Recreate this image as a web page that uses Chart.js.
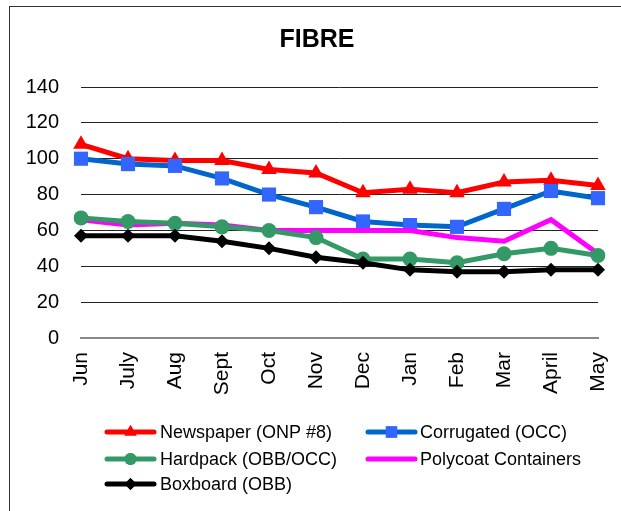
<!DOCTYPE html>
<html>
<head>
<meta charset="utf-8">
<script src="https://cdn.jsdelivr.net/npm/chart.js@4"></script>
<style>
  html, body { margin:0; padding:0; background:#fff; overflow:hidden; }
  #wrap { position:relative; width:621px; height:511px; }
  #frame { position:absolute; left:9px; top:6px; width:700px; height:600px; border:1px solid #333; box-sizing:border-box; pointer-events:none; }
  canvas { position:absolute; left:0; top:0; }
</style>
</head>
<body>
<div id="wrap">
  <canvas id="c" width="621" height="511"></canvas>
  <div id="frame"></div>
</div>
<script>
const chartTitle = 'FIBRE';
const months = ['Jun','July','Aug','Sept','Oct','Nov','Dec','Jan','Feb','Mar','April','May'];
const seriesNames = ['Newspaper (ONP #8)','Corrugated (OCC)','Hardpack (OBB/OCC)','Polycoat Containers','Boxboard (OBB)'];
const newspaper  = [108,100,99,99,94,92,81,83,81,87,88,85];
const corrugated = [100,97,96,89,80,73,65,63,62,72,82,78];
const hardpack   = [67,65,64,62,60,56,44,44,42,47,50,46];
const polycoat   = [66,63,64,63,60,60,60,60,56,54,66,47];
const boxboard   = [57,57,57,54,50,45,42,38,37,37,38,38];
const yTicks = [0,20,40,60,80,100,120,140];

const FONT = "'Liberation Sans', Arial, sans-serif";

const styles = [
  {line:'#FF0000', fill:'#FF0000', shape:'triangle', r:9, lr:7, order:4},
  {line:'#0066CC', fill:'#3366FF', shape:'rect', r:10, lr:8, order:3},
  {line:'#339966', fill:'#339966', shape:'circle', r:7.5, lr:6, order:1},
  {line:'#FF00FF', fill:'#FF00FF', shape:'circle', r:0, lr:0, order:2},
  {line:'#000000', fill:'#000000', shape:'rectRot', r:7, lr:6, order:0}
];
const values = [newspaper, corrugated, hardpack, polycoat, boxboard];

const datasets = values.map((v, i) => ({
  label: seriesNames[i],
  data: v,
  borderColor: styles[i].line,
  backgroundColor: styles[i].fill,
  pointBackgroundColor: styles[i].fill,
  pointBorderColor: styles[i].fill,
  pointBorderWidth: 0,
  pointStyle: styles[i].shape,
  pointRadius: styles[i].r,
  pointHoverRadius: styles[i].r,
  borderWidth: 5,
  tension: 0,
  fill: false,
  order: styles[i].order
}));

const titleLegendPlugin = {
  id: 'titleLegend',
  afterDraw(chart) {
    const ctx = chart.ctx;
    ctx.save();
    ctx.fillStyle = '#000';
    ctx.font = 'bold 25px ' + FONT;
    ctx.textAlign = 'center';
    ctx.textBaseline = 'middle';
    ctx.fillText(chartTitle, 317, 40);

    const cols = [{lx:107, tx:160}, {lx:368, tx:420}];
    const rows = [432, 459, 484];
    ctx.font = '18px ' + FONT;
    ctx.textAlign = 'left';
    ctx.textBaseline = 'middle';
    seriesNames.forEach((name, i) => {
      const c = cols[i % 2], y = rows[Math.floor(i / 2)];
      ctx.strokeStyle = styles[i].line;
      ctx.lineWidth = 5;
      ctx.lineCap = 'round';
      ctx.beginPath();
      ctx.moveTo(c.lx, y);
      ctx.lineTo(c.lx + 47, y);
      ctx.stroke();
      if (styles[i].lr > 0) {
        ctx.fillStyle = styles[i].fill;
        ctx.strokeStyle = styles[i].fill;
        Chart.helpers.drawPoint(ctx, {pointStyle: styles[i].shape, radius: styles[i].lr, borderWidth: 0, rotation: 0}, c.lx + 23.5, y);
        ctx.fill();
      }
      ctx.fillStyle = '#000';
      ctx.fillText(name, c.tx, y + 1);
    });
    ctx.restore();
  }
};

new Chart(document.getElementById('c'), {
  type: 'line',
  data: { labels: months, datasets },
  options: {
    responsive: false,
    animation: false,
    devicePixelRatio: 1,
    layout: { padding: { top: 87, right: 23, left: 0, bottom: 0 } },
    plugins: { legend: { display: false }, title: { display: false }, tooltip: { enabled: false } },
    events: [],
    scales: {
      x: {
        offset: false,
        grid: { display: false, drawTicks: false },
        border: { display: true, color: '#888888', width: 2 },
        ticks: { minRotation: 90, maxRotation: 90, padding: 14, color: '#000', font: { family: FONT, size: 21 } },
        afterFit(s) { s.height = 511 - 338; s.paddingLeft = 0; s.paddingRight = 0; }
      },
      y: {
        min: 0, max: 140,
        afterBuildTicks(s) { s.ticks = yTicks.map(v => ({ value: v })); },
        grid: {
          drawTicks: false,
          color: ctx => (ctx.tick && ctx.tick.value === 0) ? '#888888' : '#222222',
          lineWidth: 1
        },
        border: { display: false },
        ticks: { padding: 22, color: '#000', font: { family: FONT, size: 20 } },
        afterFit(s) { s.width = 81; }
      }
    }
  },
  plugins: [titleLegendPlugin]
});
</script>
</body>
</html>
